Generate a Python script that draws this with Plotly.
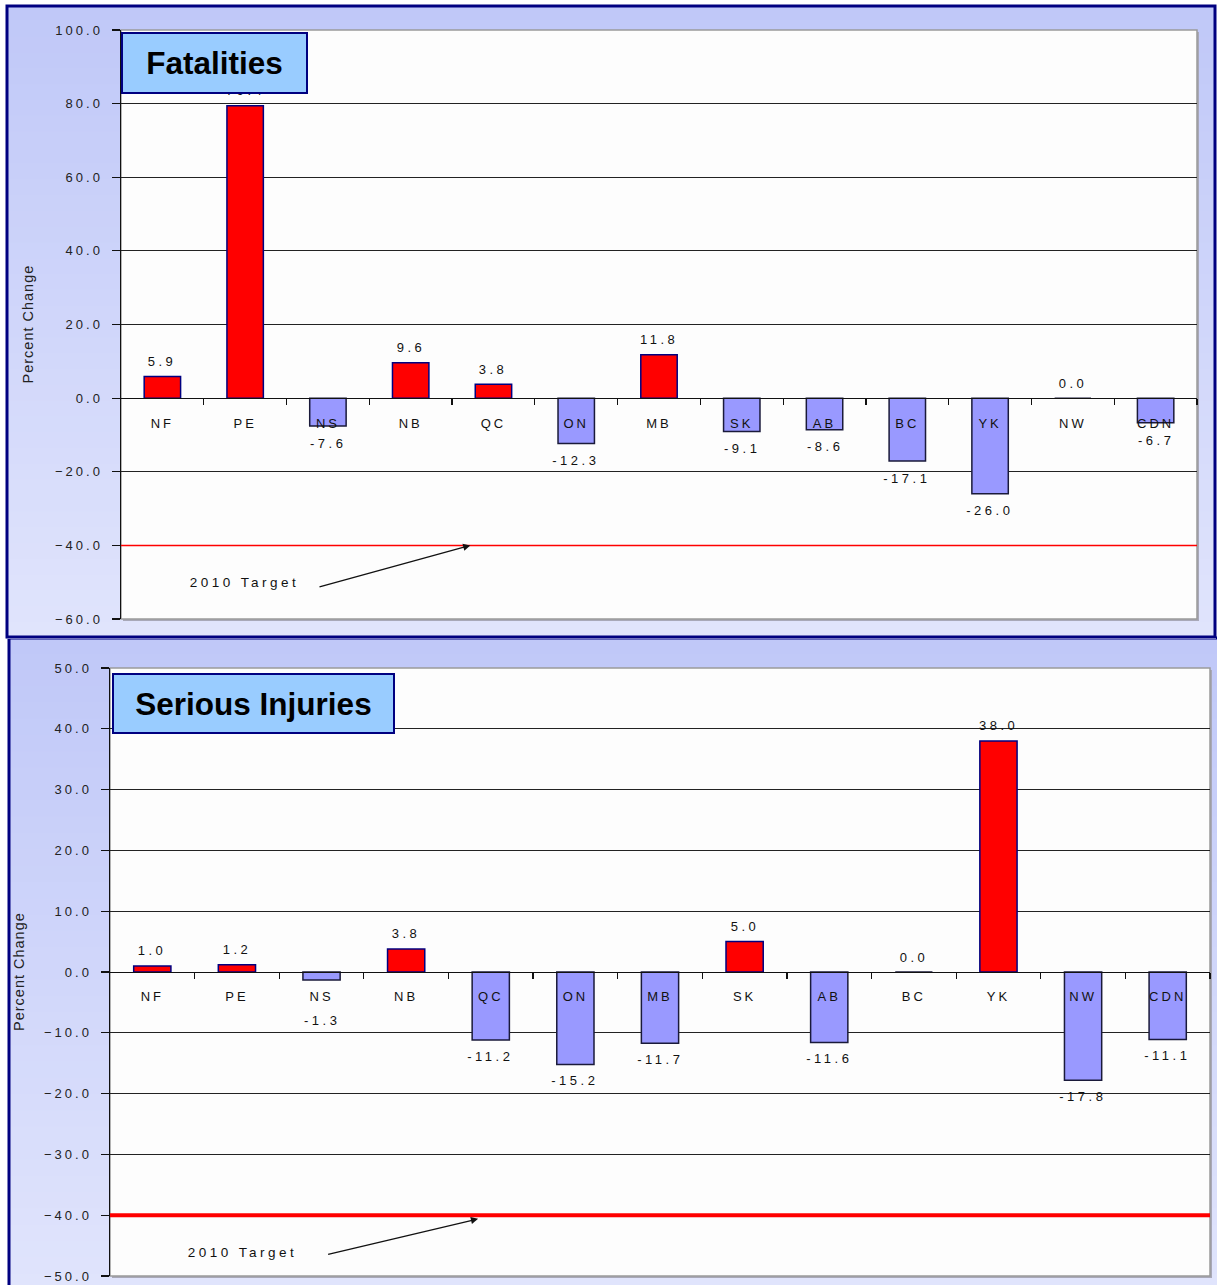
import plotly.graph_objects as go

# ---------------- data ----------------
CATEGORIES = ["NF", "PE", "NS", "NB", "QC", "ON", "MB", "SK", "AB", "BC", "YK", "NW", "CDN"]
FATALITIES = [5.9, 79.4, -7.6, 9.6, 3.8, -12.3, 11.8, -9.1, -8.6, -17.1, -26.0, 0.0, -6.7]
INJURIES = [1.0, 1.2, -1.3, 3.8, -11.2, -15.2, -11.7, 5.0, -11.6, 0.0, 38.0, -17.8, -11.1]
TARGET = -40.0
TOP_TICKS = [-60, -40, -20, 0, 20, 40, 60, 80, 100]
BOT_TICKS = [-50, -40, -30, -20, -10, 0, 10, 20, 30, 40, 50]
TITLES = ["Fatalities", "Serious Injuries"]
Y_TITLE = "Percent Change"
TARGET_LABEL = "2010 Target"

# ---------------- geometry ----------------
W, H = 1217, 1285
FONT = "Liberation Sans, Arial, sans-serif"


def px_x(p):
    return p / W


def px_y(p):
    return 1 - p / H


panels = [
    dict(vals=FATALITIES, ticks=TOP_TICKS, rng=[-60, 100], dom_x=[121, 1197], dom_y=[30, 619],
         box=[6, 5, 1216, 638], grad=[(192, 200, 248), (224, 228, 252)],
         title_box=[121, 32, 308, 94], ytitle_x=27, pos_shift=15, neg_shift=17, neg_floor=-7.0,
         target_w=1.5, target_text=(0.99, -50.0), arrow_head=(3.72, TARGET), arrow_tail=(1.88, -51.4),
         standoff=13),
    dict(vals=INJURIES, ticks=BOT_TICKS, rng=[-50, 50], dom_x=[110, 1210], dom_y=[668, 1276],
         box=[8, 637, 1222, 1290], grad=[(192, 200, 248), (224, 228, 252)],
         title_box=[112, 673, 395, 734], ytitle_x=19, pos_shift=15, neg_shift=16, neg_floor=-5.3,
         target_w=4, target_text=(1.06, -46.2), arrow_head=(3.85, -40.6), arrow_tail=(2.06, -46.5),
         standoff=12),
]

fig = go.Figure()
shapes = []
annotations = []

# draw bottom panel background first so the top panel border sits over it
for i in (1, 0):
    p = panels[i]
    bx0, by0, bx1, by1 = p["box"]
    n = 40
    c0, c1 = p["grad"]
    for k in range(n):
        t = k / (n - 1)
        col = "rgb(%d,%d,%d)" % tuple(round(c0[j] + (c1[j] - c0[j]) * t) for j in range(3))
        ya0 = by0 + (by1 - by0) * k / n
        ya1 = by0 + (by1 - by0) * (k + 1) / n + 1
        shapes.append(dict(type="rect", xref="paper", yref="paper", layer="below",
                           x0=px_x(bx0), x1=px_x(bx1), y0=px_y(ya1), y1=px_y(ya0),
                           line=dict(width=0), fillcolor=col))
    shapes.append(dict(type="rect", xref="paper", yref="paper", layer="below",
                       x0=px_x(bx0 + 1), x1=px_x(bx1 - 1), y0=px_y(by1 - 1), y1=px_y(by0 + 1),
                       line=dict(width=3, color="#000080"), fillcolor="rgba(0,0,0,0)"))

for i, p in enumerate(panels):
    sfx = "" if i == 0 else str(i + 1)
    xa, ya = "x" + sfx, "y" + sfx
    lo, hi = p["rng"]
    dy0, dy1 = px_y(p["dom_y"][1]), px_y(p["dom_y"][0])
    zero_pos = dy0 + (0 - lo) / (hi - lo) * (dy1 - dy0)

    # plot area shadow + white
    X0, X1 = p["dom_x"]
    Y0, Y1 = p["dom_y"]
    shapes.append(dict(type="rect", xref="paper", yref="paper", layer="below",
                       x0=px_x(X0 + 2), x1=px_x(X1 + 2), y0=px_y(Y1 + 2), y1=px_y(Y0 + 2),
                       line=dict(width=0), fillcolor="#a8a8b8"))
    shapes.append(dict(type="rect", xref="paper", yref="paper", layer="below",
                       x0=px_x(X0), x1=px_x(X1), y0=px_y(Y1), y1=px_y(Y0),
                       line=dict(width=1.5, color="#9a9a9a"), fillcolor="#fdfdfd"))

    vals = p["vals"]
    xs = list(range(len(CATEGORIES)))
    fig.add_trace(go.Bar(
        x=xs, y=vals, xaxis=xa, yaxis=ya, width=0.44,
        marker=dict(color=["#ff0000" if v > 0 else "#9999ff" for v in vals],
                    line=dict(color=["#000080" if v > 0 else "#1a1a3a" for v in vals], width=1.5)),
        hoverinfo="skip", showlegend=False,
    ))

    # target line
    fig.add_trace(go.Scatter(
        x=[-0.5, len(CATEGORIES) - 0.5], y=[TARGET, TARGET], xaxis=xa, yaxis=ya, mode="lines",
        line=dict(color="#ff0000", width=p["target_w"]), hoverinfo="skip", showlegend=False,
        cliponaxis=False,
    ))

    fig.update_layout(**{
        ("xaxis" + sfx): dict(
            domain=[px_x(X0), px_x(X1)], range=[-0.5, len(CATEGORIES) - 0.5], automargin=False,
            anchor="free", position=zero_pos, tickmode="array", tickvals=xs, ticktext=CATEGORIES,
            ticks="", ticklabelstandoff=p["standoff"], showline=True, linecolor="#111", linewidth=1.2,
            showgrid=False, zeroline=False, fixedrange=True,
            tickfont=dict(family=FONT, size=13, color="#111"),
            minor=dict(tickvals=[k + 0.5 for k in xs], ticks="outside", ticklen=6,
                       tickcolor="#111", tickwidth=1.2, showgrid=False),
        ),
        ("yaxis" + sfx): dict(
            domain=[dy0, dy1], range=[lo, hi], anchor=xa, tickmode="array", tickvals=p["ticks"],
            automargin=False,
            tickformat=".1f", ticks="outside", ticklen=8, tickcolor="#111", tickwidth=1.2,
            showline=True, linecolor="#111", linewidth=1.5, showgrid=True, gridcolor="#222",
            gridwidth=1, zeroline=False, fixedrange=True, ticklabelstandoff=6,
            tickfont=dict(family=FONT, size=13, color="#222"),
        ),
    })

    # value labels
    for k, v in enumerate(vals):
        if v >= 0:
            annotations.append(dict(x=k, y=v, xref=xa, yref=ya, text="%.1f" % v, showarrow=False,
                                    yshift=p["pos_shift"], font=dict(family=FONT, size=13, color="#111")))
        else:
            annotations.append(dict(x=k, y=min(v, p["neg_floor"]), xref=xa, yref=ya, text="%.1f" % v,
                                    showarrow=False, yshift=-p["neg_shift"],
                                    font=dict(family=FONT, size=13, color="#111")))

    # target annotation
    tx, ty = p["target_text"]
    annotations.append(dict(x=tx, y=ty, xref=xa, yref=ya, text=TARGET_LABEL, showarrow=False,
                            font=dict(family=FONT, size=13.5, color="#111")))
    hx, hy = p["arrow_head"]
    ax_, ay_ = p["arrow_tail"]
    annotations.append(dict(x=hx, y=hy, xref=xa, yref=ya, ax=ax_, ay=ay_, axref=xa, ayref=ya,
                            text="", showarrow=True, arrowhead=2, arrowsize=1.1, arrowwidth=1.3,
                            arrowcolor="#111", standoff=0))

    # y title
    annotations.append(dict(x=px_x(p["ytitle_x"]), y=(dy0 + dy1) / 2, xref="paper", yref="paper",
                            xanchor="center", yanchor="middle",
                            text=Y_TITLE, textangle=-90, showarrow=False,
                            font=dict(family=FONT, size=14.5, color="#222")))

    # title box
    tb = p["title_box"]
    annotations.append(dict(x=px_x(tb[0]), y=px_y(tb[1]), xref="paper", yref="paper",
                            xanchor="left", yanchor="top", text="<b>%s</b>" % TITLES[i],
                            showarrow=False, width=tb[2] - tb[0] - 4, height=tb[3] - tb[1] - 4,
                            align="center", valign="middle", bgcolor="#99ccff",
                            bordercolor="#000080", borderwidth=2, borderpad=0,
                            font=dict(family=FONT, size=31.5, color="#000")))

fig.update_layout(
    width=W, height=H, margin=dict(l=0, r=0, t=0, b=0, pad=0, autoexpand=False), autosize=False,
    paper_bgcolor="#ffffff", plot_bgcolor="rgba(0,0,0,0)",
    shapes=shapes, annotations=annotations, bargap=0, showlegend=False,
)

post = """
document.documentElement.style.margin='0';
document.body.style.margin='0';
document.body.style.padding='0';
function sp(){
  document.querySelectorAll('g[class$="tick"] text').forEach(function(t){t.style.letterSpacing='3px';});
  document.querySelectorAll('.annotation-text').forEach(function(t){
    var fs=parseFloat(t.style.fontSize||'0');
    if(fs<14){t.style.letterSpacing='3.5px';}
    else if(fs<20){t.style.letterSpacing='1px';}
  });
}
sp(); setTimeout(sp,50); setTimeout(sp,300);
"""
fig.write_html("out.html", post_script=post, config={"staticPlot": True})
